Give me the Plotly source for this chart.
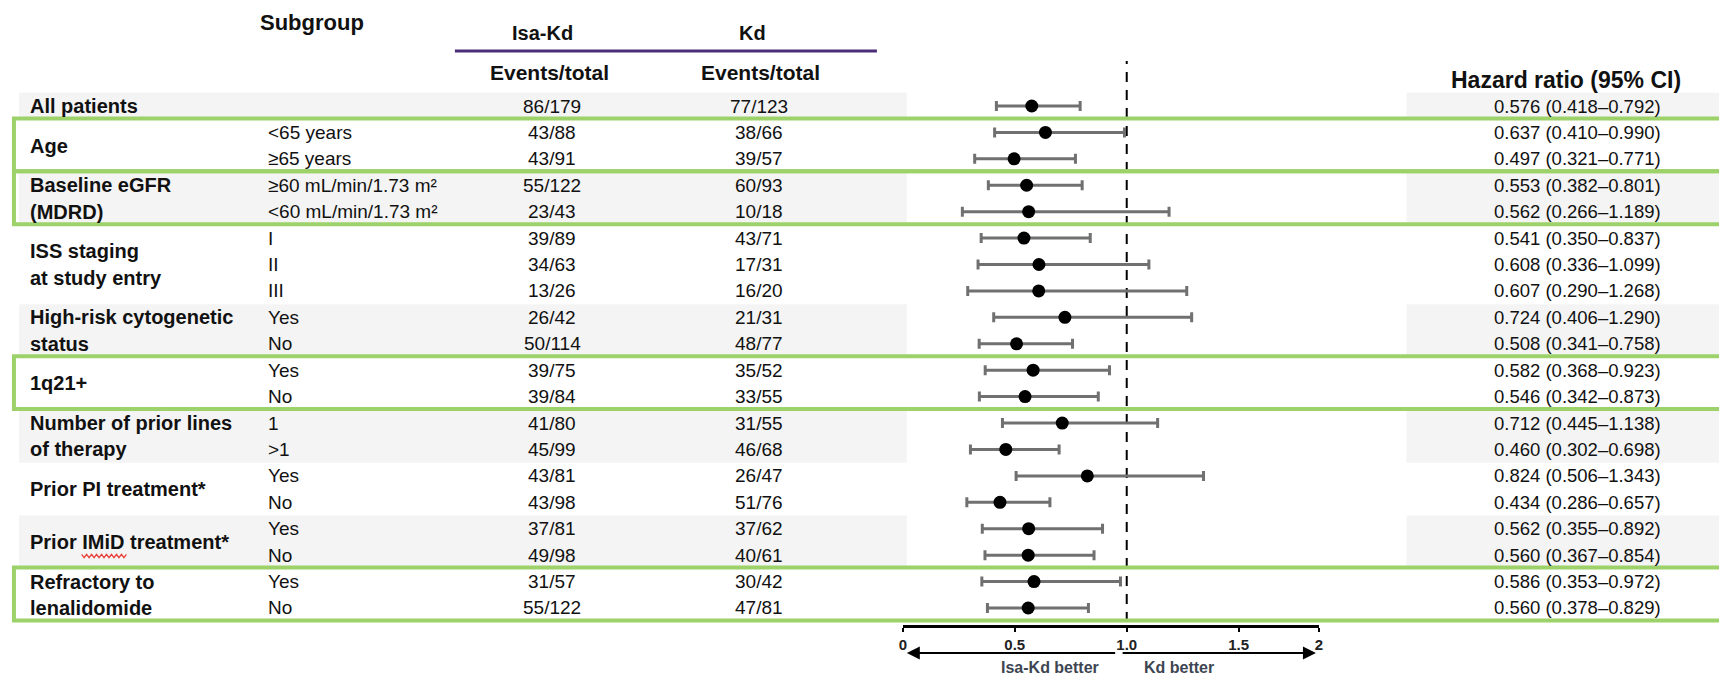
import plotly.graph_objects as go

W, H = 1719, 676
FONT = "Liberation Sans, Arial, sans-serif"

# ---------------- data ----------------
GROUP_NAMES = [["All patients"], ["Age"], ["Baseline eGFR", "(MDRD)"],
               ["ISS staging", "at study entry"], ["High-risk cytogenetic", "status"],
               ["1q21+"], ["Number of prior lines", "of therapy"],
               ["Prior PI treatment*"], ["Prior IMiD treatment*"],
               ["Refractory to", "lenalidomide"]]
GROUP_SIZES = [1, 2, 2, 3, 2, 2, 2, 2, 2, 2]
GROUP_SHADED = [True, False, True, False, True, False, True, False, True, False]
GROUP_BOXED = [False, True, True, False, False, True, False, False, False, True]

SUBGROUPS = ["", "&lt;65 years", "≥65 years", "≥60 mL/min/1.73 m²", "&lt;60 mL/min/1.73 m²",
             "I", "II", "III", "Yes", "No", "Yes", "No", "1", "&gt;1",
             "Yes", "No", "Yes", "No", "Yes", "No"]
ISA_KD = ["86/179", "43/88", "43/91", "55/122", "23/43", "39/89", "34/63", "13/26",
          "26/42", "50/114", "39/75", "39/84", "41/80", "45/99", "43/81", "43/98",
          "37/81", "49/98", "31/57", "55/122"]
KD = ["77/123", "38/66", "39/57", "60/93", "10/18", "43/71", "17/31", "16/20",
      "21/31", "48/77", "35/52", "33/55", "31/55", "46/68", "26/47", "51/76",
      "37/62", "40/61", "30/42", "47/81"]
HR = [0.576, 0.637, 0.497, 0.553, 0.562, 0.541, 0.608, 0.607, 0.724, 0.508,
      0.582, 0.546, 0.712, 0.460, 0.824, 0.434, 0.562, 0.560, 0.586, 0.560]
CI_LO = [0.418, 0.410, 0.321, 0.382, 0.266, 0.350, 0.336, 0.290, 0.406, 0.341,
         0.368, 0.342, 0.445, 0.302, 0.506, 0.286, 0.355, 0.367, 0.353, 0.378]
CI_HI = [0.792, 0.990, 0.771, 0.801, 1.189, 0.837, 1.099, 1.268, 1.290, 0.758,
         0.923, 0.873, 1.138, 0.698, 1.343, 0.657, 0.892, 0.854, 0.972, 0.829]

TICK_LABELS = ["0", "0.5", "1.0", "1.5", "2"]
TICK_VALUES = [0, 0.5, 1.0, 1.5, 1.858]

# ---------------- layout geometry (pixels) ----------------
ROW0_PX = 106.0
ROW_STEP = 26.42
AXIS_PX = 625.0
X0_PX, X1_PX = 903.0, 1321.0
X_RANGE = [0, 1.858]


def px2x(px):
    return px / W


def py2y(py):
    return 1 - py / H


def row_py(r):
    return ROW0_PX + ROW_STEP * r


annotations = []
shapes = []


def txt(text, px, py, size=19, bold=False, anchor="center", color="#111111"):
    annotations.append(dict(
        text=f"<b>{text}</b>" if bold else text, x=px2x(px), y=py2y(py),
        xref="paper", yref="paper", showarrow=False, xanchor=anchor, yanchor="middle",
        font=dict(size=size, color=color, family=FONT)))


def rect(px0, py0, px1, py1, fill=None, line=None, lw=0, layer="below"):
    shapes.append(dict(type="rect", xref="paper", yref="paper",
                       x0=px2x(px0), x1=px2x(px1), y0=py2y(py1), y1=py2y(py0),
                       fillcolor=fill if fill else "rgba(0,0,0,0)",
                       line=dict(color=line if line else "rgba(0,0,0,0)", width=lw),
                       layer=layer))


# ---------------- group bands, boxes, labels ----------------
start = 0
box_specs = []
for names, n, shaded, boxed in zip(GROUP_NAMES, GROUP_SIZES, GROUP_SHADED, GROUP_BOXED):
    top = row_py(start)
    bot = row_py(start + n - 1)
    if shaded:
        rect(15, top - 13.2, 907, bot + 13.2, fill="#f4f4f4")
        rect(1409, top - 13.2, W + 5, bot + 13.2, fill="#f4f4f4")
    if boxed:
        box_specs.append((top - 14, bot + 12.5))
    mid = (top + bot) / 2
    k = len(names)
    for j, nm in enumerate(names):
        txt(nm, 24, mid + (j - (k - 1) / 2) * ROW_STEP, size=20, bold=True, anchor="left")
    start += n

# ---------------- row texts ----------------
for i in range(len(HR)):
    y = row_py(i)
    if SUBGROUPS[i]:
        txt(SUBGROUPS[i], 263, y, size=19, anchor="left")
    txt(ISA_KD[i], 551, y, size=19)
    txt(KD[i], 759, y, size=19)
    txt(f"{HR[i]:.3f} ({CI_LO[i]:.3f}–{CI_HI[i]:.3f})", 1581, y, size=18.5)

# ---------------- headers ----------------
txt("Subgroup", 309, 22, size=22, bold=True)
txt("Isa-Kd", 541, 33, size=20, bold=True)
txt("Kd", 752, 33, size=20, bold=True)
txt("Events/total", 548, 73, size=21, bold=True)
txt("Events/total", 760, 73, size=21, bold=True)
txt("Hazard ratio (95% CI)", 1569, 80, size=23, bold=True)
shapes.append(dict(type="line", xref="paper", yref="paper",
                   x0=px2x(453), x1=px2x(877), y0=py2y(51), y1=py2y(51),
                   line=dict(color="#4a2c78", width=3)))

# red spell-check squiggle under "IMiD"
sq_x0, sq_x1, sq_y = 78, 125, 556
pts = []
xx = sq_x0
k = 0
while xx <= sq_x1:
    pts.append((xx, sq_y + (1.6 if k % 2 else -1.6)))
    xx += 2.5
    k += 1
path = "M " + " L ".join(f"{px2x(a):.5f},{py2y(b):.5f}" for a, b in pts)
shapes.append(dict(type="path", xref="paper", yref="paper", path=path,
                   line=dict(color="#e8413a", width=1.3)))

# ---------------- forest plot ----------------
fig = go.Figure()
fig.add_trace(go.Scatter(
    x=HR, y=list(range(len(HR))), mode="markers",
    marker=dict(size=13, color="black"),
    error_x=dict(type="data", symmetric=False,
                 array=[h - v for h, v in zip(CI_HI, HR)],
                 arrayminus=[v - l for v, l in zip(HR, CI_LO)],
                 color="#707070", thickness=3, width=5),
    showlegend=False, hoverinfo="skip"))

# reference line at HR = 1
shapes.append(dict(type="line", xref="x", yref="paper", x0=1, x1=1,
                   y0=py2y(622), y1=py2y(61),
                   line=dict(color="black", width=2, dash="10px,8px"), layer="below"))

# green boxes (drawn on top)
for top, bot in box_specs:
    rect(10, top, W + 12, bot, line="#9dd26a", lw=4, layer="above")

# arrows and labels under the axis
ARROW_PY = 653
annotations.append(dict(x=0.018, y=py2y(ARROW_PY), xref="x", yref="paper",
                        ax=0.955, ay=0, axref="x", ayref="pixel", text="",
                        showarrow=True, arrowhead=2, arrowsize=1.3, arrowwidth=2,
                        arrowcolor="black"))
annotations.append(dict(x=1.845, y=py2y(ARROW_PY), xref="x", yref="paper",
                        ax=0.975, ay=0, axref="x", ayref="pixel", text="",
                        showarrow=True, arrowhead=2, arrowsize=1.3, arrowwidth=2,
                        arrowcolor="black"))
txt("Isa-Kd better", 1051, 667, size=16, bold=True, color="#3e4552")
txt("Kd better", 1180, 667, size=16, bold=True, color="#3e4552")

y_bottom = (AXIS_PX - ROW0_PX) / ROW_STEP
y_top = -ROW0_PX / ROW_STEP

fig.update_layout(
    width=W, height=H, autosize=False,
    margin=dict(l=0, r=0, t=0, b=0),
    paper_bgcolor="white", plot_bgcolor="rgba(0,0,0,0)",
    font=dict(family=FONT, color="#111111"),
    xaxis=dict(domain=[px2x(X0_PX), px2x(X1_PX)], range=X_RANGE,
               showline=True, linecolor="black", linewidth=3,
               ticks="outside", ticklen=4, tickwidth=2, tickcolor="black",
               tickvals=TICK_VALUES, ticktext=[f"<b>{t}</b>" for t in TICK_LABELS],
               tickfont=dict(size=15, color="#222222", family=FONT),
               showgrid=False, zeroline=False, fixedrange=True),
    yaxis=dict(domain=[1 - AXIS_PX / H, 1], range=[y_bottom, y_top],
               visible=False, showgrid=False, zeroline=False, fixedrange=True),
    shapes=shapes, annotations=annotations,
)

fig.write_html("out.html")
